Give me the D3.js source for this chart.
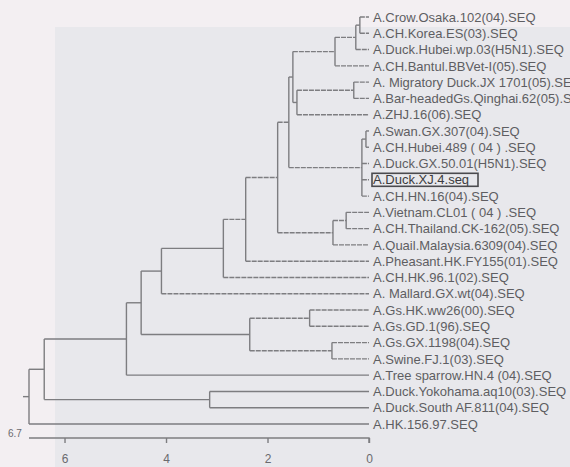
<!DOCTYPE html>
<html>
<head>
<meta charset="utf-8">
<script src="https://cdn.jsdelivr.net/npm/d3@7"></script>
<style>
  html, body { margin: 0; padding: 0; background: #f3eff2; }
  svg { display: block; }
</style>
</head>
<body>
<svg id="chart" width="570" height="467"></svg>
<script>
// ---- data ----
const leafNames = [
  "A.Crow.Osaka.102(04).SEQ",
  "A.CH.Korea.ES(03).SEQ",
  "A.Duck.Hubei.wp.03(H5N1).SEQ",
  "A.CH.Bantul.BBVet-I(05).SEQ",
  "A. Migratory Duck.JX 1701(05).SEQ",
  "A.Bar-headedGs.Qinghai.62(05).SEQ",
  "A.ZHJ.16(06).SEQ",
  "A.Swan.GX.307(04).SEQ",
  "A.CH.Hubei.489 ( 04 ) .SEQ",
  "A.Duck.GX.50.01(H5N1).SEQ",
  "A.Duck.XJ.4.seq",
  "A.CH.HN.16(04).SEQ",
  "A.Vietnam.CL01 ( 04 ) .SEQ",
  "A.CH.Thailand.CK-162(05).SEQ",
  "A.Quail.Malaysia.6309(04).SEQ",
  "A.Pheasant.HK.FY155(01).SEQ",
  "A.CH.HK.96.1(02).SEQ",
  "A. Mallard.GX.wt(04).SEQ",
  "A.Gs.HK.ww26(00).SEQ",
  "A.Gs.GD.1(96).SEQ",
  "A.Gs.GX.1198(04).SEQ",
  "A.Swine.FJ.1(03).SEQ",
  "A.Tree sparrow.HN.4 (04).SEQ",
  "A.Duck.Yokohama.aq10(03).SEQ",
  "A.Duck.South AF.811(04).SEQ",
  "A.HK.156.97.SEQ"
];
const leafParents = [
  "P1","P1","P2","P3","Q","Q","R","T","T","S","S","S",
  "N","N","M","J","I","E","G","G","H","H","B","C","C","root"
];
const nodeIds     = ["root","A","B","C","D","E","F","G","H","I","J","K","L","L2","P3","P2","P1","R","Q","S","T","M","N"];
const nodeParents = ["",   "root","A","A","B","D","D","F","F","E","I","J","K","L", "L2","P3","P2","L2","R","L","S","K","M"];
const nodeHeights = [6.7, 6.40, 4.78, 3.14, 4.49, 4.09, 2.35, 1.17, 0.73, 2.87, 2.43, 1.80, 1.58, 1.50, 0.67, 0.26, 0.18, 1.42, 0.30, 0.14, 0.06, 0.71, 0.45];
const tickValues = [6, 4, 2, 0];
const rootLabel = "6.7";
const highlightedLeaf = "A.Duck.XJ.4.seq";

// ---- build ----
const rows = nodeIds.map((id, i) => ({ id, parent: nodeParents[i] || null, h: nodeHeights[i], leaf: false }))
  .concat(leafNames.map((id, i) => ({ id, parent: leafParents[i], h: 0, leaf: true })));
const root = d3.stratify().id(d => d.id).parentId(d => d.parent)(rows);

const svg = d3.select("#chart");
const x = d3.scaleLinear().domain([6.7, 0]).range([29, 369]);
const y = d3.scalePoint().domain(leafNames).range([17, 424]);

root.eachAfter(n => {
  if (!n.children) n.yy = y(n.data.id);
  else {
    const ys = n.children.map(c => c.yy);
    n.minY = d3.min(ys); n.maxY = d3.max(ys);
    n.yy = (n.minY + n.maxY) / 2;
  }
});

// background panel
svg.append("rect").attr("x", 0).attr("y", 0).attr("width", 570).attr("height", 467).attr("fill", "#f3eff2");
svg.append("rect").attr("x", 55).attr("y", 27).attr("width", 515).attr("height", 440).attr("fill", "#e8e8ec");

const lineColor = "#7d7d80";
const g = svg.append("g").attr("fill", "none").attr("stroke", lineColor).attr("stroke-width", 1.4);

// horizontal branches
g.selectAll("line.h").data(root.descendants().filter(n => n.parent))
  .join("line").attr("class", "h")
  .attr("x1", n => x(n.parent.data.h)).attr("x2", n => x(n.data.h))
  .attr("y1", n => n.yy).attr("y2", n => n.yy)
  .attr("stroke-dasharray", n => n.data.h < 2.5 && n.depth > 4 ? "5,1" : null);

// vertical connectors
g.selectAll("line.v").data(root.descendants().filter(n => n.children))
  .join("line").attr("class", "v")
  .attr("x1", n => x(n.data.h)).attr("x2", n => x(n.data.h))
  .attr("y1", n => n.minY).attr("y2", n => n.maxY);

// root stub
g.append("line").attr("x1", x(root.data.h) - 6).attr("x2", x(root.data.h))
  .attr("y1", root.yy).attr("y2", root.yy);

// leaf labels
const labels = svg.append("g")
  .attr("font-family", "Liberation Sans, Arial, sans-serif")
  .attr("font-size", 13).attr("fill", "#5e5e62");
labels.selectAll("text").data(root.leaves()).join("text")
  .attr("x", x(0) + 4).attr("y", n => n.yy).attr("dy", "0.36em")
  .attr("fill", n => n.data.id === highlightedLeaf ? "#3c3c40" : null)
  .text(n => n.data.id);

// highlight box
const hl = root.leaves().find(n => n.data.id === highlightedLeaf);
svg.append("rect").attr("x", x(0) + 3).attr("y", hl.yy - 6.5).attr("width", 106).attr("height", 13)
  .attr("fill", "none").attr("stroke", "#4a4a4e").attr("stroke-width", 1.6);

// axis
const axis = d3.axisBottom(x).tickValues(tickValues).tickSize(5).tickPadding(11).tickFormat(d3.format("d"));
const ax = svg.append("g").attr("transform", "translate(0,438)").call(axis);
ax.select(".domain").attr("stroke", lineColor).attr("stroke-width", 1.4).attr("d", `M${x(6.7)},0H${x(0)}V5`);
ax.selectAll(".tick line").attr("stroke", lineColor).attr("stroke-width", 1.4);
ax.selectAll(".tick text").attr("fill", "#6a6a6e").attr("font-size", 12).attr("font-family", "Liberation Sans, Arial, sans-serif");

svg.append("text").attr("x", 8).attr("y", 433).attr("dy", "0.35em")
  .attr("font-family", "Liberation Sans, Arial, sans-serif").attr("font-size", 10)
  .attr("fill", "#6a6a6e").text(rootLabel);
</script>
</body>
</html>
